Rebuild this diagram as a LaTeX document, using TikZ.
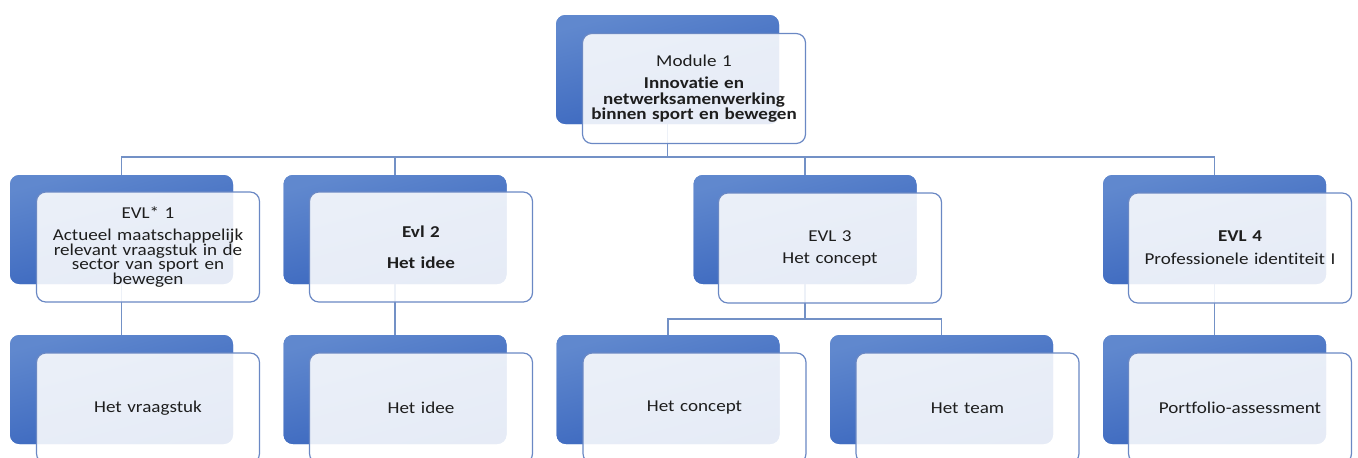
\documentclass[tikz,border=0pt]{standalone}
\usepackage{fontspec}
\setmainfont{Carlito}[FakeStretch=1.15,Ligatures={NoCommon}]
\definecolor{btop}{HTML}{6088CE}
\definecolor{bbot}{HTML}{3562BC}
\definecolor{fedge}{HTML}{6A88C4}
\definecolor{conncol}{HTML}{7391C6}
\definecolor{txt}{HTML}{1E1E1E}
\begin{document}
\begin{tikzpicture}[x=0.75pt,y=-0.75pt,
  backbox/.style={rounded corners=7pt, top color=btop, bottom color=bbot, shading angle=15,
    minimum width=167.25pt, minimum height=81.75pt, inner sep=0pt, draw=none},
  frontbox/.style={rounded corners=7pt, draw=fedge, line width=0.9pt, fill=white, fill opacity=0.88,
    text opacity=1, text=txt, minimum width=167.25pt, minimum height=82.5pt, inner sep=2pt,
    text width=158pt, align=center, font=\fontsize{12.45pt}{11pt}\selectfont},
  conn/.style={draw=conncol, line width=1.1pt}]
\useasboundingbox (0,0) rectangle (1358,457);
\clip (0,0) rectangle (1358,457);
\coordinate (h1) at (0,157);
\coordinate (h2) at (0,319);
% back boxes (named, used for connector anchors)
\node[backbox] (m1b) at (667.5,69.5) {};
\node[backbox] (e1b) at (121.5,229.5) {};
\node[backbox] (e2b) at (395,229.5) {};
\node[backbox] (e3b) at (805,229.5) {};
\node[backbox] (e4b) at (1214.5,229.5) {};
\node[backbox] (l1b) at (121.5,389.5) {};
\node[backbox] (l2b) at (395,389.5) {};
\node[backbox] (l3b) at (668,389.5) {};
\node[backbox] (l4b) at (941.5,389.5) {};
\node[backbox] (l5b) at (1214.5,389.5) {};
% connectors
\draw[conn] (m1b.south) -- (m1b.south |- h1) -| (e1b.north);
\draw[conn] (m1b.south |- h1) -| (e2b.north);
\draw[conn] (m1b.south |- h1) -| (e3b.north);
\draw[conn] (m1b.south |- h1) -| (e4b.north);
\draw[conn] (e1b.south) -- (l1b.north);
\draw[conn] (e2b.south) -- (l2b.north);
\draw[conn] (e3b.south) -- (e3b.south |- h2) -| (l3b.north);
\draw[conn] (e3b.south |- h2) -| (l4b.north);
\draw[conn] (e4b.south) -- (l5b.north);
% redraw back boxes over connectors
\node[backbox] (m1c) at (m1b) {};
\node[backbox] (e1c) at (e1b) {};
\node[backbox] (e2c) at (e2b) {};
\node[backbox] (e3c) at (e3b) {};
\node[backbox] (e4c) at (e4b) {};
\node[backbox] (l1c) at (l1b) {};
\node[backbox] (l2c) at (l2b) {};
\node[backbox] (l3c) at (l3b) {};
\node[backbox] (l4c) at (l4b) {};
\node[backbox] (l5c) at (l5b) {};
% front boxes
\node[frontbox] (m1) at (694,88.5) {Module 1\\[5pt]{\bfseries\fontsize{12.45pt}{11.8pt}\selectfont Innovatie en\\ netwerksamenwerking\\ binnen sport en bewegen}};
\node[frontbox] (e1) at (148,247) {EVL* 1\\[5.5pt]Actueel maatschappelijk\\ relevant vraagstuk in de\\ sector van sport en\\ bewegen};
\node[frontbox] (e2) at (421,247) {\bfseries Evl 2\\[12pt]Het idee};
\node[frontbox] (e3) at (830,248) {EVL 3\\[5.5pt]Het concept};
\node[frontbox] (e4) at (1240,248) {{\bfseries EVL 4}\\[6pt]Professionele identiteit I};
\node[frontbox] (l1) at (148,408) {Het vraagstuk};
\node[frontbox] (l2) at (421,408) {Het idee};
\node[frontbox] (l3) at (694.5,408) {Het concept};
\node[frontbox] (l4) at (967.5,408) {Het team};
\node[frontbox] (l5) at (1240,408) {Portfolio-assessment};
\end{tikzpicture}
\end{document}
